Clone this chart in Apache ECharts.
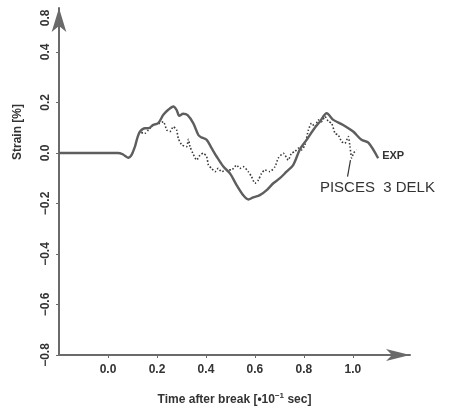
<!DOCTYPE html>
<html>
<head>
<meta charset="utf-8">
<title>Strain</title>
<script src="https://cdn.jsdelivr.net/npm/echarts@6/dist/echarts.min.js"></script>
<style>
	html, body { margin: 0; padding: 0; background: #fff; }
	#chart { width: 449px; height: 411px; }
</style>
</head>
<body>
<div id="chart"></div>
<script>
// measured curve (EXP), [time, strain]
var expData = [
	[-0.2, 0], [0.0, 0], [0.04, 0], [0.06, -0.005], [0.083, -0.019], [0.095, -0.01],
	[0.11, 0.025], [0.12, 0.06], [0.131, 0.085], [0.151, 0.098], [0.165, 0.098],
	[0.185, 0.111], [0.205, 0.118], [0.226, 0.151], [0.246, 0.171], [0.267, 0.184],
	[0.28, 0.171], [0.291, 0.147], [0.307, 0.155], [0.325, 0.15], [0.348, 0.118],
	[0.369, 0.071], [0.38, 0.062], [0.403, 0.052], [0.423, 0.019], [0.444, -0.015],
	[0.471, -0.054], [0.498, -0.081], [0.525, -0.127], [0.552, -0.167], [0.573, -0.184],
	[0.593, -0.176], [0.62, -0.167], [0.648, -0.147], [0.675, -0.12], [0.702, -0.1],
	[0.729, -0.074], [0.756, -0.048], [0.784, 0.015], [0.811, 0.052], [0.838, 0.091],
	[0.865, 0.124], [0.893, 0.157], [0.92, 0.131], [0.96, 0.111], [1.001, 0.085],
	[1.035, 0.052], [1.063, 0.041], [1.103, -0.021]
];
// calculated curve (PISCES 3 DELK)
var piscesData = [
	[-0.2, 0], [0.0, 0], [0.04, 0], [0.06, -0.005], [0.083, -0.019], [0.095, -0.01],
	[0.11, 0.025], [0.12, 0.06], [0.131, 0.085], [0.144, 0.078], [0.151, 0.078],
	[0.165, 0.091], [0.185, 0.111], [0.212, 0.118], [0.226, 0.124], [0.24, 0.091],
	[0.253, 0.085], [0.267, 0.104], [0.28, 0.091], [0.287, 0.058], [0.301, 0.032],
	[0.321, 0.025], [0.328, 0.054], [0.335, 0.025], [0.348, -0.005], [0.362, -0.028],
	[0.376, -0.008], [0.389, -0.001], [0.403, -0.015], [0.41, -0.048], [0.423, -0.061],
	[0.437, -0.074], [0.45, -0.061], [0.464, -0.074], [0.484, -0.067], [0.505, -0.067],
	[0.525, -0.048], [0.539, -0.061], [0.552, -0.054], [0.573, -0.074], [0.586, -0.094],
	[0.6, -0.12], [0.614, -0.107], [0.627, -0.081], [0.641, -0.067], [0.661, -0.074],
	[0.682, -0.054], [0.695, -0.021], [0.716, -0.001], [0.736, -0.028], [0.749, -0.001],
	[0.763, 0.005], [0.777, 0.019], [0.79, 0.012], [0.804, 0.032], [0.818, 0.09],
	[0.831, 0.118], [0.845, 0.104], [0.858, 0.131], [0.872, 0.124], [0.886, 0.144],
	[0.9, 0.124], [0.913, 0.118], [0.927, 0.078], [0.94, 0.071], [0.954, 0.045],
	[0.967, 0.038], [0.981, 0.065], [0.988, 0.025], [0.995, -0.02], [1.003, 0.0],
	[1.015, 0.012]
];
var xTicks = [0, 0.2, 0.4, 0.6, 0.8, 1.0];
var yTicks = [-0.8, -0.6, -0.4, -0.2, 0, 0.2, 0.4];
// the top label of the original axis reads "0.8" just below the arrow
var yLabelValues = [-0.8, -0.6, -0.4, -0.2, 0, 0.2, 0.4, 0.535];
var yLabelTexts = ['−0.8', '−0.6', '−0.4', '−0.2', '0.0', '0.2', '0.4', '0.8'];
var leaderLine = [[0.99, -0.028], [0.978, -0.094]];
var piscesLabelAt = [1.1, -0.139];

var FONT = 'Liberation Sans';
var AXIS_GRAY = '#6a6a6a';
var TEXT = '#333';

var chart = echarts.init(document.getElementById('chart'), null, { renderer: 'canvas' });
chart.setOption({
	animation: false,
	backgroundColor: '#fff',
	grid: { left: 59, right: 39, top: 8, bottom: 56 },
	xAxis: {
		type: 'value',
		min: -0.2,
		max: 1.233,
		name: 'Time after break [•10{sup|−1} sec]',
		nameLocation: 'middle',
		nameGap: 37,
		nameTextStyle: {
			fontFamily: FONT, fontSize: 12, fontWeight: 'bold', color: TEXT,
			rich: { sup: { fontFamily: FONT, fontSize: 8, fontWeight: 'bold', color: TEXT, verticalAlign: 'top', padding: [0, 0, 7, 0] } }
		},
		axisLine: {
			show: true,
			onZero: false,
			symbol: ['none', 'arrow'],
			symbolSize: [9, 24],
			symbolOffset: [0, 0],
			lineStyle: { color: AXIS_GRAY, width: 2 }
		},
		axisTick: { show: true, length: 3, customValues: xTicks, lineStyle: { color: AXIS_GRAY, width: 1 } },
		axisLabel: {
			customValues: xTicks,
			margin: 9,
			fontFamily: FONT, fontSize: 12, fontWeight: 'bold', color: TEXT,
			formatter: function (v) { return v.toFixed(1); }
		},
		splitLine: { show: false }
	},
	yAxis: {
		type: 'value',
		min: -0.8,
		max: 0.574,
		axisLine: {
			show: true,
			onZero: false,
			symbol: ['none', 'arrow'],
			symbolSize: [11, 24],
			symbolOffset: [0, 0],
			lineStyle: { color: AXIS_GRAY, width: 2 }
		},
		axisTick: { show: true, length: 3, customValues: yTicks, lineStyle: { color: AXIS_GRAY, width: 1 } },
		axisLabel: {
			customValues: yLabelValues,
			rotate: 90,
			margin: 7,
			fontFamily: FONT, fontSize: 12, fontWeight: 'bold', color: TEXT,
			formatter: function (v) {
				for (var i = 0; i < yLabelValues.length; i++) {
					if (Math.abs(yLabelValues[i] - v) < 1e-6) return yLabelTexts[i];
				}
				return '';
			}
		},
		splitLine: { show: false }
	},
	graphic: [{
		type: 'text',
		x: 18,
		y: 132,
		rotation: Math.PI / 2,
		style: {
			text: 'Strain [%]',
			font: 'bold 12px "Liberation Sans"',
			fill: TEXT,
			align: 'center',
			verticalAlign: 'middle'
		}
	}],
	series: [
		{
			name: 'EXP',
			type: 'line',
			data: expData,
			showSymbol: false,
			smooth: 0.3,
			lineStyle: { color: '#5e5e5e', width: 2.4 },
			endLabel: {
				show: true,
				formatter: 'EXP',
				distance: 4,
				offset: [0, -2],
				fontFamily: FONT, fontSize: 11, fontWeight: 'bold', color: TEXT
			},
			z: 3
		},
		{
			name: 'PISCES 3 DELK',
			type: 'line',
			data: piscesData,
			showSymbol: false,
			smooth: 0.2,
			lineStyle: { color: '#3a3a3a', width: 1.6, type: [1.5, 2] },
			markLine: {
				silent: true,
				symbol: ['none', 'none'],
				label: { show: false },
				lineStyle: { color: '#333', width: 1.2, type: 'solid' },
				data: [[{ coord: leaderLine[0] }, { coord: leaderLine[1] }]]
			},
			markPoint: {
				silent: true,
				symbol: 'circle',
				symbolSize: 0,
				label: {
					show: true,
					position: 'inside',
					formatter: 'PISCES  3 DELK',
					fontFamily: FONT, fontSize: 15, color: TEXT
				},
				data: [{ coord: piscesLabelAt }]
			},
			z: 2
		}
	]
});
</script>
</body>
</html>
